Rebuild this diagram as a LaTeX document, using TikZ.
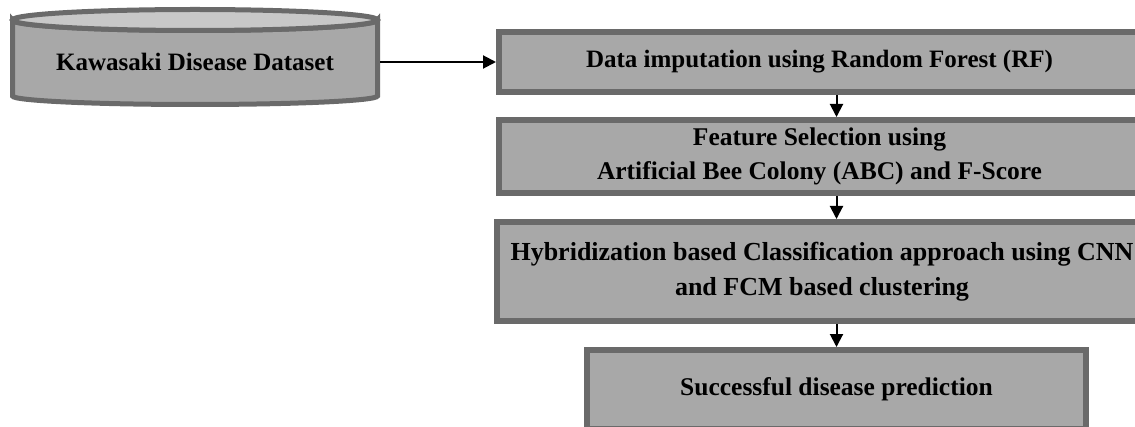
\documentclass[tikz,border=0pt]{standalone}
\usepackage{fontspec}
\setmainfont{Liberation Serif}
\usetikzlibrary{arrows.meta,calc}
\definecolor{bordergray}{HTML}{6A6A6A}
\definecolor{fillgray}{HTML}{A8A8A8}
\definecolor{topgray}{HTML}{C8C8C8}
\begin{document}
\begin{tikzpicture}[x=1pt,y=1pt,
  stagebox/.style={draw=bordergray,fill=fillgray,line width=6pt,inner sep=0pt,
    align=center,font=\fontsize{25.5}{34}\selectfont\bfseries},
  arr/.style={-{Triangle[length=13pt,width=13pt]},line width=2pt,black}]
\useasboundingbox (0,0) rectangle (1135,426);
% cylinder
\filldraw[draw=bordergray,fill=fillgray,line width=5pt]
  (12.5,406) -- (12.5,330) arc[start angle=180,end angle=360,x radius=182.5,y radius=8.5]
  -- (377.5,406) arc[start angle=0,end angle=-180,x radius=182.5,y radius=10.5] -- cycle;
\filldraw[draw=bordergray,fill=topgray,line width=5pt]
  (195,406) ellipse[x radius=182.5,y radius=10.5];
\node[minimum width=370pt,minimum height=40pt,inner sep=0pt,outer sep=0pt,
  font=\fontsize{25}{34}\selectfont\bfseries] (ds) at (195,364) {Kawasaki Disease Dataset};
% boxes
\node[stagebox,minimum width=641pt,minimum height=60pt,
  font=\fontsize{25}{34}\selectfont\bfseries] (b1) at (819.5,364)
  {Data imputation using Random Forest (RF)};
\node[stagebox,minimum width=641pt,minimum height=73pt] (b2) at (819.5,269.5)
  {Feature Selection using\\Artificial Bee Colony (ABC) and F-Score};
\node[stagebox,minimum width=650pt,minimum height=99pt,
  font=\fontsize{26}{35}\selectfont\bfseries] (b3) at (822,154.5)
  {Hybridization based Classification approach using CNN\\and FCM based clustering};
\node[stagebox,minimum width=499pt,minimum height=79pt] (b4) at (836.5,36.5)
  {Successful disease prediction};
% connectors
\draw[arr] (ds.east) -- (b1.west);
\draw[arr] (b1.south -| b4.north) -- (b2.north -| b4.north);
\draw[arr] (b2.south -| b4.north) -- (b3.north -| b4.north);
\draw[arr] (b3.south -| b4.north) -- (b4.north);
\end{tikzpicture}
\end{document}
